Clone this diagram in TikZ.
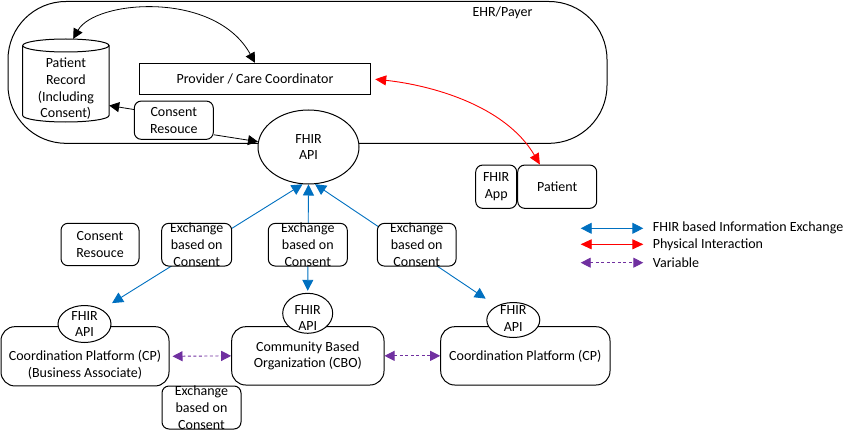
\documentclass[tikz,border=0pt]{standalone}
\usepackage{fontspec}
\setmainfont{Carlito}
\usetikzlibrary{arrows.meta,backgrounds,calc,shapes.geometric}
\definecolor{fblue}{RGB}{0,112,192}
\definecolor{fred}{RGB}{255,0,0}
\definecolor{fpurple}{RGB}{112,48,160}
\begin{document}
\begin{tikzpicture}[x=1pt,y=-1pt,
  every node/.style={font=\fontsize{14}{16.7}\selectfont},
  txt/.style={align=center, inner sep=0pt},
  box/.style={draw, line width=1pt, rounded corners=7pt, fill=white, inner sep=0pt, align=center},
  bigbox/.style={draw, line width=1pt, rounded corners=14pt, fill=white, inner sep=0pt, align=center},
  api/.style={draw, ellipse, line width=1pt, fill=white, inner sep=0pt, align=center},
  conn/.style={line width=0.8pt, -{Triangle[length=10pt,width=10pt]}},
  dconn/.style={line width=0.8pt, {Triangle[length=10pt,width=10pt]}-{Triangle[length=10pt,width=10pt]}},
  bluearr/.style={line width=0.9pt, draw=fblue, {Triangle[length=11pt,width=11pt]}-{Triangle[length=11pt,width=11pt]}},
  redarr/.style={line width=0.9pt, draw=fred, {Triangle[length=11pt,width=10pt]}-{Triangle[length=11pt,width=10pt]}},
  purarr/.style={line width=0.9pt, draw=fpurple, dash pattern=on 3pt off 2.5pt, {Triangle[length=10pt,width=10pt,sep=0pt]}-{Triangle[length=10pt,width=10pt]}}
]
\useasboundingbox (0,0) rectangle (866,433);

% EHR / Payer container
\draw[line width=1pt, rounded corners=58pt] (8,1.5) rectangle (607,143.3);
\node[txt] (ehr) at (502.5,13) {EHR/Payer};

% Patient record cylinder
\node[minimum width=86.3, minimum height=83, inner sep=0pt] (rec) at (65.85,80.5) {};
\path[fill=white] (22.7,45.5) -- (22.7,115.5) arc[start angle=180, end angle=0, x radius=43.15, y radius=6.5] -- (109,45.5) -- cycle;
\draw[line width=1pt] (22.7,45.5) -- (22.7,115.5) arc[start angle=180, end angle=0, x radius=43.15, y radius=6.5] -- (109,45.5);
\draw[line width=1pt, fill=white] (65.85,45.5) ellipse[x radius=43.15, y radius=6.5];
\node[txt] (rectxt) at (65.85,88.8) {Patient\\Record\\(Including\\Consent)};

\node[draw, line width=1pt, minimum width=231.4, minimum height=31, inner sep=0pt] (prov) at (255,78.8) {Provider / Care Coordinator};
\node[box, minimum width=79, minimum height=38.3] (cons1) at (173.8,120.2) {Consent\\Resouce};
\node[api, minimum width=101, minimum height=74] (apiM) at (308.5,147) {FHIR\\API};

\node[box, minimum width=41, minimum height=43.3] (app) at (496.2,186.7) {FHIR\\App};
\node[box, minimum width=79, minimum height=43.3] (pat) at (557.2,186.7) {Patient};

% second row
\node[box, minimum width=78, minimum height=42.4] (cons2) at (100,244.5) {Consent\\Resouce};
\node[box, minimum width=70, minimum height=42.7] (e1) at (196.7,244.7) {};
\node[box, minimum width=79, minimum height=42.7] (e2) at (307.8,244.7) {};
\node[box, minimum width=78.7, minimum height=42.7] (e3) at (416.7,244.7) {};
\node[txt] (e1t) at (e1) {Exchange\\based on\\Consent};
\node[txt] (e2t) at (e2) {Exchange\\based on\\Consent};
\node[txt] (e3t) at (e3) {Exchange\\based on\\Consent};

% bottom row
\node[bigbox, minimum width=168, minimum height=59.3] (cp1) at (85,356.3) {};
\node[bigbox, minimum width=152.3, minimum height=58.3] (cbo) at (307.85,355.85) {Community Based\\Organization (CBO)};
\node[bigbox, minimum width=169.3, minimum height=58.3] (cp3) at (525.35,355.85) {Coordination Platform (CP)};
\node[txt] (cp1t) at (85,365) {Coordination Platform (CP)\\(Business Associate)};

\node[api, minimum width=53, minimum height=37] (api1) at (84.5,324) {};
\node[api, minimum width=50, minimum height=40] (api2) at (307.7,313.3) {};
\node[api, minimum width=53, minimum height=35] (api3) at (513.3,320) {};
\node[txt] (api1t) at (84.5,324) {FHIR\\API};
\node[txt] (api2t) at (307.7,318) {FHIR\\API};
\node[txt] (api3t) at (513.3,318.5) {FHIR\\API};

\node[box, minimum width=79, minimum height=43] (e4) at (201.5,407.5) {};
\node[txt] (e4t) at (e4) {Exchange\\based on\\Consent};

% blue exchange lines behind the boxes
\begin{scope}[on background layer]
\draw[bluearr, shorten <=12pt] (api1.40) -- (apiM.261);
\draw[bluearr, shorten <=2pt] (api2.north) -- (apiM.south);
\draw[bluearr, shorten <=13pt] (api3.140) -- (apiM.280);
\end{scope}

% black connectors
\draw[dconn] (rec.80) .. controls (95,0) and (215,-10) .. (prov.north);
\draw[conn] (cons1.165) -- (rec.-30);
\draw[conn] (cons1.-20) -- (apiM.174);

% red physical interaction
\draw[redarr, shorten <=4pt] (prov.east) .. controls (430,85) and (505,105) .. (pat.128);

% purple variable
\draw[purarr, shorten <=3pt] (cp1.east) -- (cbo.west);
\draw[purarr] (cbo.east) -- (cp3.west);

% legend
\node[txt, anchor=west] (l1) at (652.7,228.3) {FHIR based Information Exchange};
\node[txt, anchor=west] (l2) at (652.7,244.3) {Physical Interaction};
\node[txt, anchor=west] (l3) at (652.7,262.7) {Variable};
\coordinate (l1a) at (580.7,228.3);
\coordinate (l1b) at (643.3,228.3);
\coordinate (l2a) at (580.7,244.3);
\coordinate (l2b) at (643.3,244.3);
\coordinate (l3a) at (580.7,262.7);
\coordinate (l3b) at (643.3,262.7);
\draw[bluearr] (l1a) -- (l1b);
\draw[redarr] (l2a) -- (l2b);
\draw[purarr] (l3a) -- (l3b);
\end{tikzpicture}
\end{document}
